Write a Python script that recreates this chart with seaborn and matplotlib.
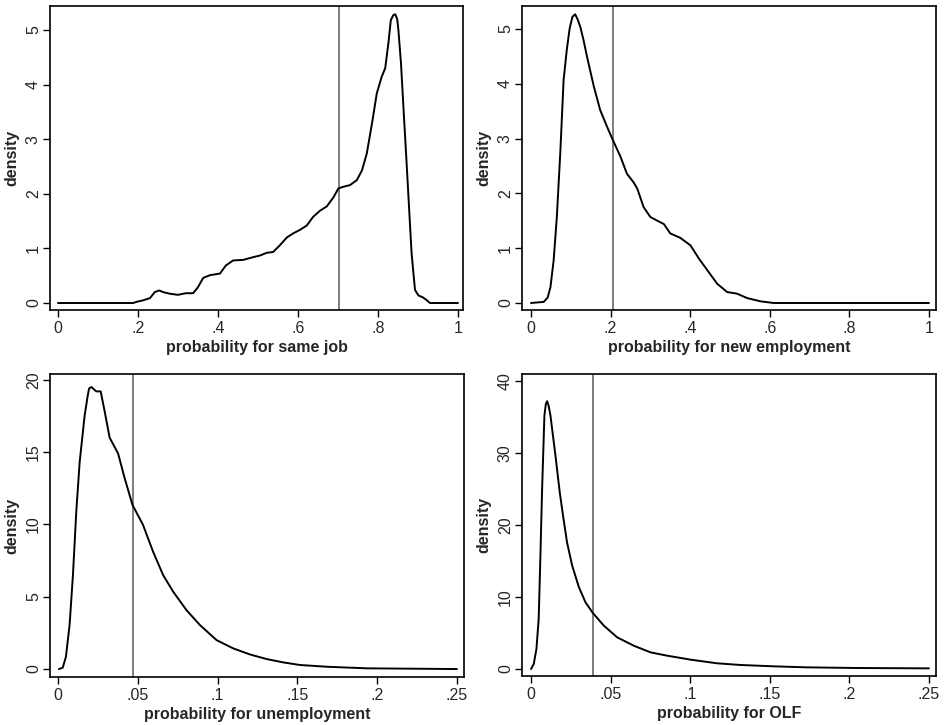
import matplotlib
matplotlib.use("Agg")
import matplotlib.pyplot as plt
import seaborn as sns
import pandas as pd

# curve points
same_job_x = [0.0, 0.188, 0.196, 0.213, 0.23, 0.242, 0.253, 0.263, 0.28, 0.30, 0.32, 0.338,
              0.35, 0.363, 0.38, 0.405, 0.42, 0.438, 0.463, 0.488, 0.505, 0.522, 0.538,
              0.555, 0.572, 0.589, 0.605, 0.622, 0.638, 0.655, 0.672, 0.689, 0.701, 0.714,
              0.73, 0.747, 0.76, 0.772, 0.785, 0.797, 0.809, 0.818, 0.826, 0.832, 0.838,
              0.843, 0.848, 0.851, 0.8575, 0.865, 0.872, 0.878, 0.884, 0.8925, 0.901,
              0.913, 0.922, 0.93, 1.0]
same_job_y = [0.0, 0.0, 0.02, 0.05, 0.09, 0.2, 0.23, 0.2, 0.17, 0.15, 0.18, 0.18,
              0.29, 0.46, 0.51, 0.54, 0.69, 0.78, 0.79, 0.84, 0.87, 0.92, 0.935,
              1.06, 1.2, 1.28, 1.34, 1.42, 1.58, 1.69, 1.77, 1.94, 2.1, 2.13,
              2.16, 2.25, 2.43, 2.74, 3.29, 3.84, 4.14, 4.3, 4.76, 5.18, 5.27,
              5.29, 5.2, 5.0, 4.39, 3.4, 2.5, 1.7, 0.91, 0.24, 0.14,
              0.1, 0.05, 0.0, 0.0]

new_emp_x = [0.0, 0.032, 0.042, 0.049, 0.057, 0.065, 0.074, 0.082, 0.09, 0.097, 0.104,
             0.111, 0.117, 0.124, 0.132, 0.141, 0.158, 0.174, 0.191, 0.206, 0.225, 0.241,
             0.258, 0.267, 0.283, 0.3, 0.318, 0.334, 0.35, 0.375, 0.401, 0.422, 0.443,
             0.468, 0.493, 0.518, 0.543, 0.577, 0.61, 1.0]
new_emp_y = [0.0, 0.02, 0.1, 0.29, 0.78, 1.57, 2.79, 4.07, 4.62, 5.0, 5.22,
             5.27, 5.18, 5.04, 4.8, 4.49, 3.95, 3.52, 3.22, 2.97, 2.67, 2.36,
             2.2, 2.09, 1.75, 1.57, 1.5, 1.44, 1.27, 1.19, 1.05, 0.81, 0.6,
             0.35, 0.2, 0.17, 0.09, 0.03, 0.0, 0.0]

unemp_x = [0.0006, 0.003, 0.005, 0.0073, 0.0094, 0.0115, 0.0136, 0.0167, 0.0185, 0.0195,
           0.021, 0.024, 0.0268, 0.0293, 0.0324, 0.0377, 0.0418, 0.0467, 0.0533, 0.0596,
           0.0659, 0.0722, 0.0805, 0.0889, 0.0994, 0.1098, 0.1203, 0.1308, 0.1412, 0.1517,
           0.1684, 0.1935, 0.25]
unemp_y = [0.0, 0.09, 0.85, 3.05, 6.5, 10.9, 14.3, 17.5, 18.8, 19.4,
           19.5, 19.2, 19.2, 17.8, 16.0, 14.9, 13.2, 11.35, 9.97, 8.12,
           6.5, 5.35, 4.08, 3.05, 2.0, 1.43, 1.01, 0.69, 0.46, 0.28,
           0.16, 0.05, 0.0]

olf_x = [0.0, 0.0017, 0.0034, 0.0048, 0.0059, 0.0069, 0.0084, 0.0093, 0.0101, 0.011,
         0.0122, 0.0153, 0.018, 0.0201, 0.0226, 0.0258, 0.03, 0.0342, 0.0388, 0.0457,
         0.0541, 0.0645, 0.075, 0.0855, 0.1002, 0.1169, 0.1316, 0.1526, 0.1735, 0.205, 0.25]
olf_y = [0.0, 0.7, 2.8, 6.95, 15.8, 24.6, 35.2, 36.8, 37.2, 36.6,
         35.2, 29.7, 24.6, 21.3, 17.6, 14.4, 11.4, 9.27, 7.79, 6.03,
         4.4, 3.24, 2.32, 1.85, 1.3, 0.79, 0.56, 0.37, 0.23, 0.14, 0.09]

mean_lines = [0.703, 0.206, 0.047, 0.039]
x_labels = ["probability for same job", "probability for new employment",
            "probability for unemployment", "probability for OLF"]

wide_ticks = [0, 0.2, 0.4, 0.6, 0.8, 1.0]
wide_tick_labels = ["0", ".2", ".4", ".6", ".8", "1"]
narrow_ticks = [0, 0.05, 0.1, 0.15, 0.2, 0.25]
narrow_tick_labels = ["0", ".05", ".1", ".15", ".2", ".25"]
y_ticks = [[0, 1, 2, 3, 4, 5], [0, 1, 2, 3, 4, 5], [0, 5, 10, 15, 20], [0, 10, 20, 30, 40]]

sns.set_style("white")
plt.rcParams["font.family"] = ["Liberation Sans", "DejaVu Sans"]

fig = plt.figure(figsize=(9.48, 7.25), dpi=100)

panels = [
    (same_job_x, same_job_y, [0.0527, 0.5724, 0.4357, 0.4193], (-0.02, 1.0125), (-0.128, 5.44),
     wide_ticks, wide_tick_labels),
    (new_emp_x, new_emp_y, [0.5506, 0.5724, 0.4367, 0.4193], (-0.0226, 1.0176), (-0.128, 5.42),
     wide_ticks, wide_tick_labels),
    (unemp_x, unemp_y, [0.0527, 0.0662, 0.4367, 0.4179], (-0.005, 0.2544), (-0.55, 20.4),
     narrow_ticks, narrow_tick_labels),
    (olf_x, olf_y, [0.5506, 0.0676, 0.4367, 0.4165], (-0.0057, 0.2544), (-0.97, 40.97),
     narrow_ticks, narrow_tick_labels),
]

for i, (xs, ys, pos, xl, yl, xt, xtl) in enumerate(panels):
    ax = fig.add_axes(pos)
    df = pd.DataFrame({"x": xs, "y": ys})
    ax.axvline(mean_lines[i], color="#666666", lw=1.2, zorder=1)
    sns.lineplot(data=df, x="x", y="y", ax=ax, color="black", lw=1.4, zorder=2)
    ax.set_xlim(*xl)
    ax.set_ylim(*yl)
    ax.set_xticks(xt)
    ax.set_xticklabels(xtl)
    ax.set_yticks(y_ticks[i])
    ax.set_yticklabels([str(v) for v in y_ticks[i]], rotation=90, va="center")
    ax.tick_params(axis="both", direction="out", length=5, width=1, color="black",
                   labelsize=11.5, bottom=True, left=True, pad=3)
    ax.tick_params(axis="y", pad=1.5)
    for s in ax.spines.values():
        s.set_color("black")
        s.set_linewidth(1.2)
    ax.set_xlabel(x_labels[i], fontsize=11.5, fontweight="bold", labelpad=3)
    ax.set_ylabel("density", fontsize=11.5, fontweight="bold", labelpad=5)

fig.savefig("out.png", dpi=100)
